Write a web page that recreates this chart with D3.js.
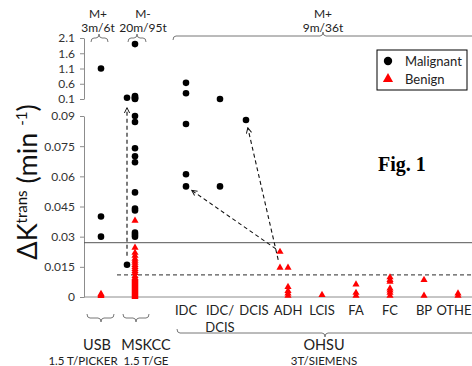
<!DOCTYPE html>
<html>
<head>
<meta charset="utf-8">
<script src="https://cdn.jsdelivr.net/npm/d3@7"></script>
<style>
body { margin: 0; background: #fff; }
svg { display: block; font-family: Lato, "Open Sans", sans-serif; }
</style>
</head>
<body>
<div id="chart"></div>
<script>
// categories along the x axis (USB, MSKCC, then the OHSU pathology types)
var categories = ['USB', 'MSKCC', 'IDC', 'IDC/DCIS', 'DCIS', 'ADH', 'LCIS', 'FA', 'FC', 'BP', 'OTHER'];
var lowTicks = [0, 0.015, 0.03, 0.045, 0.06, 0.075, 0.09];
var highTicks = [0.1, 0.6, 1.1, 1.6, 2.1];
var solidCut = 0.027;
var dashedCut = 0.011;

// [category, value, nudged left?]
var malignant = [
    ['USB', 1.1], ['USB', 0.04], ['USB', 0.03],
    ['MSKCC', 1.9], ['MSKCC', 0.2], ['MSKCC', 0.16], ['MSKCC', 0.12], ['MSKCC', 0.1], ['MSKCC', 0.14, 1],
    ['MSKCC', 0.09], ['MSKCC', 0.087], ['MSKCC', 0.074], ['MSKCC', 0.07], ['MSKCC', 0.067],
    ['MSKCC', 0.052], ['MSKCC', 0.044], ['MSKCC', 0.043], ['MSKCC', 0.032], ['MSKCC', 0.031],
    ['MSKCC', 0.03], ['MSKCC', 0.016, 1],
    ['IDC', 0.63], ['IDC', 0.29], ['IDC', 0.086], ['IDC', 0.061], ['IDC', 0.055],
    ['IDC/DCIS', 0.1], ['IDC/DCIS', 0.055],
    ['DCIS', 0.088, 1]
];
var benign = [
    ['USB', 0.0015], ['USB', 0.001], ['USB', 0.0005],
    ['MSKCC', 0.038], ['MSKCC', 0.0245], ['MSKCC', 0.022], ['MSKCC', 0.0205], ['MSKCC', 0.019],
    ['MSKCC', 0.018], ['MSKCC', 0.017], ['MSKCC', 0.016], ['MSKCC', 0.015], ['MSKCC', 0.014],
    ['MSKCC', 0.013], ['MSKCC', 0.012], ['MSKCC', 0.0105], ['MSKCC', 0.0095], ['MSKCC', 0.009],
    ['MSKCC', 0.0085], ['MSKCC', 0.008], ['MSKCC', 0.0075], ['MSKCC', 0.007], ['MSKCC', 0.0065],
    ['MSKCC', 0.006], ['MSKCC', 0.0055], ['MSKCC', 0.005], ['MSKCC', 0.0045], ['MSKCC', 0.004],
    ['MSKCC', 0.0035], ['MSKCC', 0.003], ['MSKCC', 0.0025], ['MSKCC', 0.002], ['MSKCC', 0.0015],
    ['MSKCC', 0.001], ['MSKCC', 0.0005], ['MSKCC', 0.0],
    ['ADH', 0.0225, 1], ['ADH', 0.0146, 1], ['ADH', 0.0146], ['ADH', 0.005], ['ADH', 0.003],
    ['ADH', 0.0018], ['ADH', 0.0007],
    ['LCIS', 0.001],
    ['FA', 0.0063], ['FA', 0.0021], ['FA', 0.0007],
    ['FC', 0.0098], ['FC', 0.0085], ['FC', 0.0076], ['FC', 0.0043], ['FC', 0.0032], ['FC', 0.0021], ['FC', 0.0007],
    ['BP', 0.0085], ['BP', 0.0007],
    ['OTHER', 0.0018], ['OTHER', 0.0007]
];
// dashed arrows: from a benign point to a malignant one
var arrows = [
    [['MSKCC', 0.016, 1], ['MSKCC', 0.14, 1], 9, 10],
    [['ADH', 0.0225, 1], ['IDC', 0.055], 5, 7],
    [['ADH', 0.0146, 1], ['DCIS', 0.088, 1], 8, 8]
];
var topGroups = [
    ['M+', '3m/6t'], ['M-', '20m/95t'], ['M+', '9m/36t']
];
var sites = [['USB', '1.5 T/PICKER'], ['MSKCC', '1.5 T/GE'], ['OHSU', '3T/SIEMENS']];

var W = 472, H = 366;
var svg = d3.select('#chart').append('svg')
    .attr('width', W).attr('height', H);

// x: one slot per category, extra half slot between MSKCC and the OHSU block
var slot = function(c) {
    var i = categories.indexOf(c);
    return i < 2 ? i : i + 0.5;
};
var xScale = d3.scaleLinear().domain([0, 10.5]).range([101, 458]);
var nudge = 8;
var xPos = function(d) { return xScale(slot(d[0])) - (d[2] ? nudge : 0); };

// broken y axis
var yLow = d3.scaleLinear().domain([0, 0.09]).range([297, 116]);
var yHigh = d3.scaleLinear().domain([0.1, 2.1]).range([99, 38]);
var yPos = function(v) { return v >= 0.1 ? yHigh(v) : yLow(v); };

var axisX = 84;
var fmt = function(d) { return d === 0 ? '0' : String(+d.toFixed(3)); };

var gLow = svg.append('g').attr('transform', 'translate(' + axisX + ',0)')
    .call(d3.axisLeft(yLow).tickValues(lowTicks).tickFormat(fmt).tickSize(4).tickSizeOuter(0).tickPadding(5));
var gHigh = svg.append('g').attr('transform', 'translate(' + axisX + ',0)')
    .call(d3.axisLeft(yHigh).tickValues(highTicks).tickFormat(fmt).tickSize(4).tickSizeOuter(0).tickPadding(5));
[gLow, gHigh].forEach(function(g) {
    g.selectAll('path,line').attr('stroke', '#8c8c8c');
    g.selectAll('text').attr('font-size', 12).attr('fill', '#333')
        .attr('font-family', 'Lato, sans-serif');
});

// baseline and cut-off lines
svg.append('line')
    .attr('x1', axisX).attr('x2', W).attr('y1', yLow(0)).attr('y2', yLow(0))
    .attr('stroke', '#8c8c8c');
svg.append('line')
    .attr('x1', axisX).attr('x2', W).attr('y1', yLow(solidCut)).attr('y2', yLow(solidCut))
    .attr('stroke', '#555');
svg.append('line')
    .attr('x1', 117).attr('x2', W).attr('y1', yLow(dashedCut)).attr('y2', yLow(dashedCut))
    .attr('stroke', '#555').attr('stroke-dasharray', '4,3').attr('stroke-width', 1.2);

// arrows
svg.append('defs').append('marker')
    .attr('id', 'head').attr('viewBox', '0 0 8 8')
    .attr('refX', 7).attr('refY', 4)
    .attr('markerWidth', 7).attr('markerHeight', 7)
    .attr('markerUnits', 'userSpaceOnUse')
    .attr('orient', 'auto')
    .append('path').attr('d', 'M1,1 L7,4 L1,7')
    .attr('fill', 'none').attr('stroke', '#111').attr('stroke-width', 1.1);

svg.selectAll('.arrow')
    .data(arrows)
    .enter()
    .append('line')
    .attr('class', 'arrow')
    .each(function(a) {
        var x1 = xPos(a[0]), y1 = yPos(a[0][1]);
        var x2 = xPos(a[1]), y2 = yPos(a[1][1]);
        var len = Math.hypot(x2 - x1, y2 - y1);
        var ux = (x2 - x1) / len, uy = (y2 - y1) / len;
        d3.select(this)
            .attr('x1', x1 + ux * a[2]).attr('y1', y1 + uy * a[2])
            .attr('x2', x2 - ux * a[3]).attr('y2', y2 - uy * a[3]);
    })
    .attr('stroke', '#111')
    .attr('stroke-width', 1.1)
    .attr('stroke-dasharray', '4,3')
    .attr('marker-end', 'url(#head)');

// points
var tri = d3.symbol().type(d3.symbolTriangle).size(22);
svg.selectAll('.ben')
    .data(benign)
    .enter()
    .append('path')
    .attr('class', 'ben')
    .attr('d', tri)
    .attr('transform', function(d) { return 'translate(' + xPos(d) + ',' + yPos(d[1]) + ')'; })
    .attr('fill', '#ff0000');

svg.selectAll('.mal')
    .data(malignant)
    .enter()
    .append('circle')
    .attr('class', 'mal')
    .attr('cx', xPos)
    .attr('cy', function(d) { return yPos(d[1]); })
    .attr('r', 3.3)
    .attr('fill', '#000');

// curly braces
function hBrace(x0, x1, y, dir, xm) {
    // dir = +1: ends point down, notch up
    var m = xm === undefined ? (x0 + x1) / 2 : xm;
    var e = 4 * dir;
    return 'M' + x0 + ',' + (y + e) + ' Q' + x0 + ',' + y + ' ' + (x0 + 3) + ',' + y +
        ' L' + (m - 3) + ',' + y + ' Q' + m + ',' + y + ' ' + m + ',' + (y - e) +
        ' Q' + m + ',' + y + ' ' + (m + 3) + ',' + y +
        ' L' + (x1 - 3) + ',' + y + ' Q' + x1 + ',' + y + ' ' + x1 + ',' + (y + e);
}
var braceStyle = function(p) { p.attr('fill', 'none').attr('stroke', '#777').attr('stroke-width', 1); };

svg.append('path').attr('d', hBrace(91, 108, 38, 1, 99)).call(braceStyle);
svg.append('path').attr('d', hBrace(128, 146, 38, 1, 137)).call(braceStyle);
svg.append('path').attr('d', hBrace(173, 480, 36, 1, 323)).call(braceStyle);
svg.append('path').attr('d', hBrace(87, 114, 318, -1, 101)).call(braceStyle);
svg.append('path').attr('d', hBrace(123, 149, 318, -1, 136)).call(braceStyle);
svg.append('path').attr('d', hBrace(177, 480, 333, -1, 325)).call(braceStyle);

// group headers on top
var topX = [98, 143, 323];
svg.selectAll('.top1')
    .data(topGroups)
    .enter()
    .append('text')
    .attr('x', function(d, i) { return topX[i]; })
    .attr('y', 18)
    .attr('text-anchor', 'middle')
    .attr('font-size', 12)
    .attr('fill', '#222')
    .text(function(d) { return d[0]; });
svg.selectAll('.top2')
    .data(topGroups)
    .enter()
    .append('text')
    .attr('x', function(d, i) { return topX[i]; })
    .attr('y', 32)
    .attr('text-anchor', 'middle')
    .attr('font-size', 12)
    .attr('fill', '#222')
    .text(function(d) { return d[1]; });

// category labels (the last one runs off the right edge, as in the original)
svg.selectAll('.cat')
    .data(categories.slice(2))
    .enter()
    .append('text')
    .attr('class', 'cat')
    .attr('x', function(d) { return xScale(slot(d)); })
    .attr('y', 315)
    .attr('text-anchor', 'middle')
    .attr('font-size', 13)
    .attr('fill', '#222')
    .each(function(d) {
        var t = d3.select(this);
        if (d.indexOf('/') > 0) {
            var parts = d.split('/');
            t.append('tspan').text(parts[0] + '/');
            t.append('tspan').attr('x', xScale(slot(d))).attr('dy', 17).text(parts[1]);
        } else {
            t.text(d);
        }
    });

// site labels
var siteX = [97, 146, 324];
svg.selectAll('.site')
    .data(sites)
    .enter()
    .append('text')
    .attr('x', function(d, i) { return siteX[i]; })
    .attr('y', 350)
    .attr('text-anchor', 'middle')
    .attr('font-size', 14.5)
    .attr('fill', '#222')
    .text(function(d) { return d[0]; });
svg.selectAll('.field')
    .data(sites)
    .enter()
    .append('text')
    .attr('x', function(d, i) { return i === 0 ? 83 : siteX[i]; })
    .attr('y', 364.5)
    .attr('text-anchor', 'middle')
    .attr('font-size', 11.5)
    .attr('fill', '#222')
    .text(function(d) { return d[1]; });

// y title
var yt = svg.append('text')
    .attr('transform', 'translate(37,182) rotate(-90)')
    .attr('text-anchor', 'middle')
    .attr('font-size', 27)
    .attr('fill', '#111');
yt.append('tspan').text('\u0394K');
yt.append('tspan').attr('font-size', 15).attr('dy', -10).text('trans');
yt.append('tspan').attr('dy', 10).text(' (min ');
yt.append('tspan').attr('font-size', 15).attr('dy', -10).text('-1');
yt.append('tspan').attr('dy', 10).text(')');

// legend
var lg = svg.append('g').attr('transform', 'translate(377,50)');
lg.append('rect').attr('width', 90).attr('height', 40)
    .attr('fill', '#fff').attr('stroke', '#000').attr('stroke-width', 1);
lg.append('circle').attr('cx', 11).attr('cy', 11).attr('r', 4.2).attr('fill', '#000');
lg.append('path').attr('d', d3.symbol().type(d3.symbolTriangle).size(45))
    .attr('transform', 'translate(11,29)').attr('fill', '#ff0000');
lg.append('text').attr('x', 28).attr('y', 15.5).attr('font-size', 13).attr('fill', '#222').text('Malignant');
lg.append('text').attr('x', 28).attr('y', 33.5).attr('font-size', 13).attr('fill', '#222').text('Benign');

// figure tag
svg.append('text')
    .attr('x', 378).attr('y', 171)
    .attr('font-family', '"Liberation Serif", "DejaVu Serif", serif')
    .attr('font-weight', 'bold')
    .attr('font-size', 20)
    .attr('fill', '#000')
    .text('Fig. 1');
</script>
</body>
</html>
